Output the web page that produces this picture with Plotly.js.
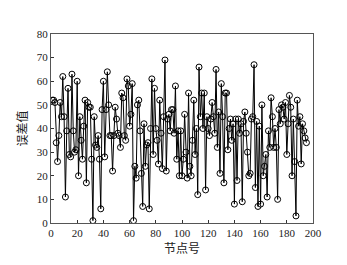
<!DOCTYPE html>
<html>
<head>
<meta charset="utf-8">
<script src="https://cdn.plot.ly/plotly-3.0.1.min.js"></script>
<style>html,body{margin:0;padding:0;background:#fff;}#chart{width:347px;height:265px;}</style>
</head>
<body>
<div id="chart"></div>
<script>
// Node numbers 1..195 and error values
const errorValues = [
  52,52,51,34,26,37,51,45,62,45,
  11,39,57,29,28,63,39,30,31,60,
  20,45,35,27,41,52,17,51,49,49,
  27,1,45,33,32,37,27,6,48,60,
  28,48,64,50,37,37,22,37,49,44,
  38,37,32,55,53,37,35,61,58,41,
  46,59,1,24,19,50,52,39,21,7,
  42,24,33,34,6,40,61,29,57,40,
  35,25,52,38,23,45,69,22,44,46,
  39,48,48,38,58,27,39,20,39,20,
  27,46,30,19,55,24,20,35,52,29,
  40,12,66,45,55,40,55,14,45,40,
  37,44,51,45,38,65,32,47,21,59,
  45,17,55,55,31,40,44,35,42,8,
  44,18,44,38,42,9,43,47,38,30,
  20,21,44,45,67,15,43,7,41,8,
  50,20,24,29,11,39,32,53,45,32,
  40,32,10,48,42,50,49,44,51,29,
  42,54,49,20,44,26,3,52,41,45,
  25,42,39,36,34
];
const nodeIds = errorValues.map((v, i) => i + 1);
const xTicks = [0, 20, 40, 60, 80, 100, 120, 140, 160, 180, 200];
const yTicks = [0, 10, 20, 30, 40, 50, 60, 70, 80];
const xLabel = '节点号';
const yLabel = '误差值';

const serif = 'Liberation Serif, Times New Roman, serif';
const cjk = 'Noto Sans CJK SC, sans-serif';

const trace = {
  x: nodeIds,
  y: errorValues,
  type: 'scatter',
  mode: 'lines+markers',
  line: {color: '#000', width: 1},
  marker: {symbol: 'circle-open', size: 6, color: '#000', line: {width: 1, color: '#000'}},
  hoverinfo: 'none'
};

const axisCommon = {
  showgrid: false,
  zeroline: false,
  showline: true,
  mirror: true,
  linecolor: '#555',
  linewidth: 1,
  ticks: 'inside',
  ticklen: 3,
  tickcolor: '#333',
  tickfont: {family: serif, size: 11, color: '#222'}
};

const layout = {
  width: 347,
  height: 265,
  margin: {l: 51, r: 34, t: 34, b: 42},
  paper_bgcolor: '#fff',
  plot_bgcolor: '#fff',
  showlegend: false,
  xaxis: Object.assign({}, axisCommon, {
    range: [0, 200],
    tickvals: xTicks,
    ticktext: xTicks.map(String),
    title: {text: xLabel, font: {family: cjk, size: 12, color: '#222'}, standoff: 4}
  }),
  yaxis: Object.assign({}, axisCommon, {
    range: [0, 80],
    tickvals: yTicks,
    ticktext: yTicks.map(String),
    title: {text: yLabel, font: {family: cjk, size: 12, color: '#222'}, standoff: 6}
  })
};

Plotly.newPlot('chart', [trace], layout, {staticPlot: true, displayModeBar: false});
</script>
</body>
</html>
